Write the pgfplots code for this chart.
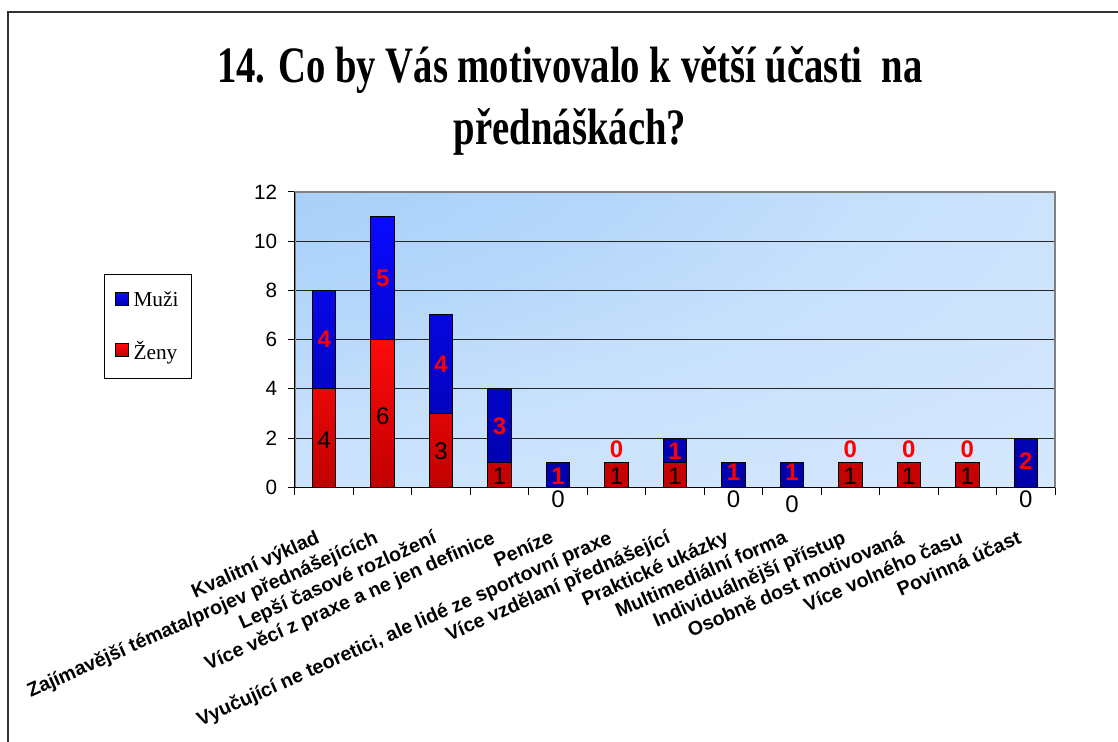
\documentclass[border=0pt]{standalone}
\usepackage{pgfplots}
\pgfplotsset{compat=1.18}
\usepackage{fontspec}
\setmainfont{Liberation Sans}
\newfontfamily\timesfont{Liberation Serif}
\definecolor{bgA}{HTML}{94C5F8}
\definecolor{bgM}{HTML}{B4D6FA}
\definecolor{bgN}{HTML}{C6E0FC}
\definecolor{bgB}{HTML}{D8E9FD}
\definecolor{bgC}{HTML}{E2F0FF}
\definecolor{zred}{HTML}{FF0A0A}
\definecolor{zredd}{HTML}{C00000}
\definecolor{mblue}{HTML}{0A0AFF}
\definecolor{mblued}{HTML}{0000A8}
\pgfdeclareradialshading{plotbg}{\pgfpoint{-50bp}{50bp}}{color(0bp)=(bgA); color(36bp)=(bgM); color(48bp)=(bgN); color(75bp)=(bgB); color(96bp)=(bgC); color(150bp)=(bgC)}

\begin{document}
\begin{tikzpicture}
\useasboundingbox (0,0) rectangle (838.5pt,556.5pt);
\draw[line width=1.5pt, color=black!80] (6pt,-5pt) -- (6pt,547.5pt) -- (850pt,547.5pt);
\node[anchor=base, font=\timesfont\bfseries\fontsize{29}{30}\selectfont] at (427.5pt,494.25pt) {\scalebox{1}[1.32]{14. Co by Vás motivovalo k větší účasti\ \ na}};
\node[anchor=base, font=\timesfont\bfseries\fontsize{29}{30}\selectfont] at (427.5pt,447.75pt) {\scalebox{1}[1.32]{přednáškách?}};

\begin{axis}[
  at={(221.25pt,191pt)}, anchor=south west,
  scale only axis, width=570pt, height=221.6pt,
  xmin=-0.5, xmax=12.5, ymin=0, ymax=12,
  ybar stacked, bar width=0.4,
  ytick={0,2,...,12},
  xtick={0,...,12},
  xticklabels={Kvalitní výklad,Zajímavější témata/projev přednášejících,Lepší časové rozložení,Více věcí z praxe a ne jen definice,Peníze,{Vyučující ne teoretici, ale lidé ze sportovní praxe},Více vzdělaní přednášející,Praktické ukázky,Multimediální forma,Individuálnější přístup,Osobně dost motivovaná,Více volného času,Povinná účast},
  minor xtick={-0.5,0.5,...,12.5},
  tick align=outside, tick pos=left,
  major tick length=5.25pt, minor tick length=5.8pt,
  major x tick style={draw=none},
  tick style={black, line width=0.75pt},
  ymajorgrids, grid style={black!85, line width=0.75pt},
  axis line style={draw=gray, line width=1pt},
  axis background/.style={shade, shading=plotbg},
  /pgf/number format/assume math mode=true,
  yticklabel style={font=\fontsize{15.5}{16}\selectfont, inner sep=0pt, xshift=-8pt},
  xticklabel style={xshift=-7pt, yshift=-26pt, rotate=24, anchor=north east, inner sep=0pt, font=\bfseries\fontsize{14.7}{16}\selectfont},
  legend style={at={(-0.2513,0.7218)}, anchor=north west, draw=black, line width=0.75pt, fill=white, font=\timesfont\fontsize{16}{16}\selectfont, inner xsep=8pt, inner ysep=11pt, row sep=20pt, /tikz/every odd column/.append style={column sep=1.5pt}},
  legend cell align=left, reverse legend,
  after end axis/.code={\draw[black, line width=0.75pt] (rel axis cs:0,1) -- (rel axis cs:0,0) -- (rel axis cs:1,0);},
]
\addplot[draw=black, line width=0.75pt, top color=zred, bottom color=zredd,
  legend image code/.code={\draw[draw=black, line width=0.5pt, top color=zred, bottom color=zredd] (0pt,-4pt) rectangle (9.75pt,5.75pt);}]
  coordinates {(0,4) (1,6) (2,3) (3,1) (4,0) (5,1) (6,1) (7,0) (8,0) (9,1) (10,1) (11,1) (12,0)};
\addlegendentry{Ženy}
\addplot[draw=black, line width=0.75pt, top color=mblue, bottom color=mblued,
  legend image code/.code={\draw[draw=black, line width=0.5pt, top color=mblue, bottom color=mblued] (0pt,-4pt) rectangle (9.75pt,5.75pt);}]
  coordinates {(0,4) (1,5) (2,4) (3,3) (4,1) (5,0) (6,1) (7,1) (8,1) (9,0) (10,0) (11,0) (12,2)};
\addlegendentry{Muži}
\end{axis}

\begin{axis}[
  at={(221.25pt,191pt)}, anchor=south west,
  scale only axis, width=570pt, height=221.6pt,
  xmin=-0.5, xmax=12.5, ymin=0, ymax=12,
  hide axis, clip=false,
]
% Zeny value labels (centre of red segment; zeros below the axis)
\addplot[draw=none, nodes near coords, point meta=explicit symbolic,
  every node near coord/.append style={anchor=center, inner sep=0pt, font=\fontsize{18}{18}\selectfont, text=black}]
  coordinates {(0,1.93)[4] (1,2.9)[6] (2,1.45)[3] (3,0.45)[1] (4,-0.49)[0] (5,0.45)[1] (6,0.45)[1] (7,-0.49)[0] (8,-0.7)[0] (9,0.45)[1] (10,0.45)[1] (11,0.45)[1] (12,-0.49)[0]};
% Muzi value labels (centre of blue segment; zeros above the bar)
\addplot[draw=none, nodes near coords, point meta=explicit symbolic,
  every node near coord/.append style={anchor=center, inner sep=0pt, font=\bfseries\fontsize{18}{18}\selectfont, text=red}]
  coordinates {(0,6)[4] (1,8.5)[5] (2,5)[4] (3,2.5)[3] (4,0.45)[1] (5,1.56)[0] (6,1.45)[1] (7,0.6)[1] (8,0.6)[1] (9,1.56)[0] (10,1.56)[0] (11,1.56)[0] (12,1.05)[2]};
\end{axis}
\end{tikzpicture}
\end{document}
